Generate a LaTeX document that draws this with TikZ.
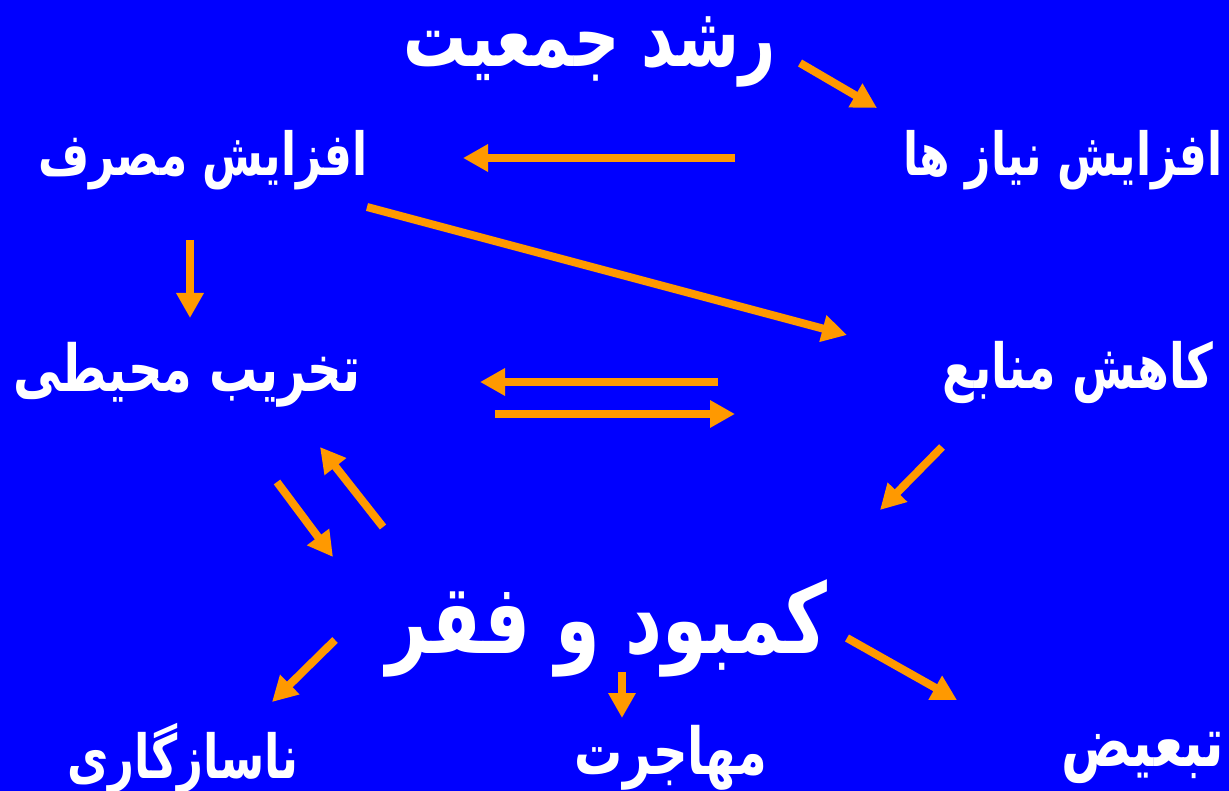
\documentclass[tikz,border=0pt]{standalone}
\usepackage{fontspec}
\usetikzlibrary{arrows.meta}
\TeXXeTstate=1
\newfontfamily\fa[Script=Arabic]{DejaVu Sans}
\definecolor{bg}{HTML}{0000FF}
\definecolor{arr}{HTML}{FF9900}
\newcommand\fatxt[2]{\scalebox{1}[1.35]{\fontsize{#1}{#1}\selectfont #2}}
\begin{document}
\begin{tikzpicture}[x=1pt,y=-1pt,
 lbl/.style={text=white, font=\fa\bfseries, inner sep=0pt},
 arw/.style={draw=arr, line width=8pt, -{Triangle[length=25pt,width=26pt]}}]
\fill[bg] (0,0) rectangle (1229,791);
\useasboundingbox (0,0) rectangle (1229,791);
\node[lbl] (rosh) at (590,52) {\fatxt{63}{\beginR رشد جمعیت\endR}};
\node[lbl] (niaz) at (1063,160) {\fatxt{44}{\beginR افزایش نیاز ها\endR}};
\node[lbl] (masr) at (203,160) {\fatxt{44}{\beginR افزایش مصرف\endR}};
\node[lbl] (takh) at (187,375) {\fatxt{48}{\beginR تخریب محیطی\endR}};
\node[lbl] (kahe) at (1078,372) {\fatxt{46}{\beginR کاهش منابع\endR}};
\node[lbl] (fagh) at (607,628) {\fatxt{72}{\beginR کمبود و فقر\endR}};
\node[lbl] (nasa) at (183,758) {\fatxt{45}{\beginR ناسازگاری\endR}};
\node[lbl] (moha) at (671,758) {\fatxt{48}{\beginR مهاجرت\endR}};
\node[lbl] (tabi) at (1143,758) {\fatxt{52}{\beginR تبعیض\endR}};
\coordinate (a1s) at (800,63);  \coordinate (a1e) at (877,108);
\coordinate (a2s) at (735,158); \coordinate (a2e) at (463,158);
\coordinate (a3s) at (367,207); \coordinate (a3e) at (847,335);
\coordinate (a4s) at (190,240); \coordinate (a4e) at (190,318);
\coordinate (a5s) at (718,382); \coordinate (a5e) at (480,382);
\coordinate (a6s) at (495,414); \coordinate (a6e) at (735,414);
\coordinate (a7s) at (942,447); \coordinate (a7e) at (880,510);
\coordinate (a8s) at (277,482); \coordinate (a8e) at (333,557);
\coordinate (a9s) at (383,527); \coordinate (a9e) at (320,447);
\coordinate (a10s) at (335,640); \coordinate (a10e) at (272,702);
\coordinate (a11s) at (622,672); \coordinate (a11e) at (622,718);
\coordinate (a12s) at (847,638); \coordinate (a12e) at (957,700);
\foreach \i in {1,...,12} \draw[arw] (a\i s) -- (a\i e);
\end{tikzpicture}
\end{document}
